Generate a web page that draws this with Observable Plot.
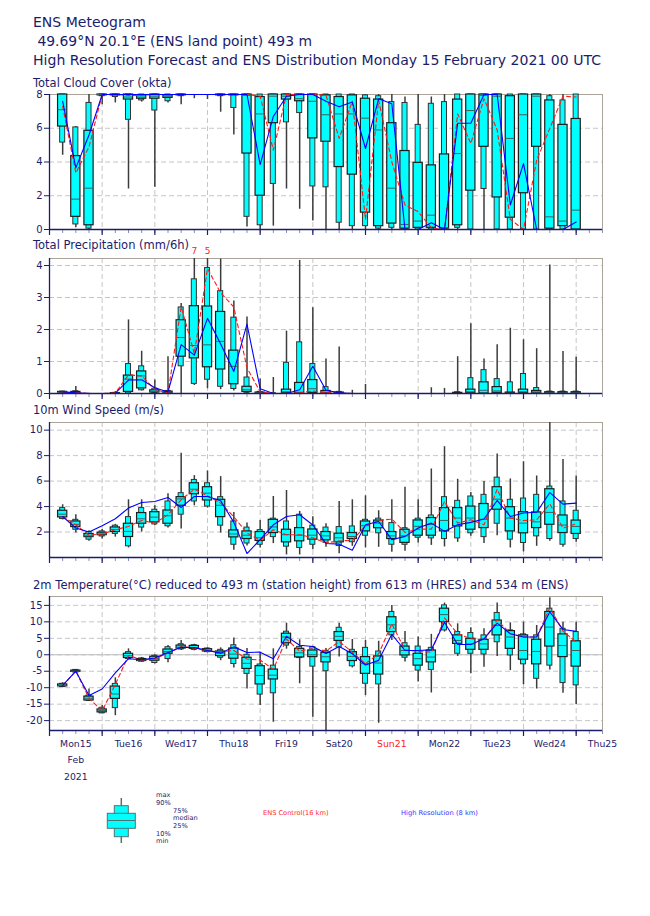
<!DOCTYPE html>
<html><head><meta charset="utf-8">
<script src="https://cdn.jsdelivr.net/npm/d3@7"></script>
<script src="https://cdn.jsdelivr.net/npm/@observablehq/plot@0.6"></script>
<style>
body{margin:0;background:#fff;font-family:"DejaVu Sans",sans-serif;}
#root{position:relative;width:650px;height:916px;overflow:hidden;background:#fff;}
#overlay{position:absolute;left:0;top:0;z-index:3;pointer-events:none;}
</style></head><body><div id="root"></div>
<script>
// ---------- time axis ----------
const steps = [6,12,18,24,30,36,42,48,54,60,66,72,78,84,90,96,102,108,114,120,126,132,138,144,150,156,162,168,174,180,186,192,198,204,210,216,222,228,234,240];
const dayTicks = [0,24,48,72,96,120,144,168,192,216,240];
const sixTicks = [0,6,12,18,24,30,36,42,48,54,60,66,72,78,84,90,96,102,108,114,120,126,132,138,144,150,156,162,168,174,180,186,192,198,204,210,216,222,228,234,240,246,252];
const dayNoon = [12,36,60,84,108,132,156,180,204,228,252];
const dayNames = ["Mon15","Tue16","Wed17","Thu18","Fri19","Sat20","Sun21","Mon22","Tue23","Wed24","Thu25"];
const sundayName = "Sun21";

// ---------- Total cloud cover (okta) ----------
const cloudMin = [4.4,0.1,0,7.4,7.5,2.4,7.55,2.5,7.5,7.4,7.75,7.7,6.95,5.6,0.15,0,0.2,2.4,1.2,0.5,0,0,0,0,0,0,0,0,0,0,0,0,0,0,0,0,0,0,0,0];
const cloudP10 = [5.15,0.3,0.05,7.9,7.85,6.5,7.65,7.05,7.6,7.9,8,8,7.9,7.2,0.75,0.25,2.7,6.35,6.9,2.55,2.5,0.4,0.2,0.2,0.05,0.1,0,0,0,0,0.1,0,2.4,0,0,0,0,0,0,0];
const cloudP25 = [6.1,0.75,0.25,7.95,7.95,7.7,7.75,7.75,7.8,7.95,8,8,7.95,7.95,4.5,2.0,6.3,7.7,7.6,5.4,5.2,3.7,3.25,1.0,0.2,0.35,0.05,0.1,0.1,0.05,0.25,2.3,4.9,1.9,0.7,2.15,4.9,0.05,0.2,0];
const cloudMed = [7.1,1.8,2.45,8,8,7.85,7.85,7.9,7.9,8,8,8,8,8,7.95,6.85,7.9,7.9,7.75,7.6,6.8,6.85,6.85,6.6,5.9,2.45,0.3,0.5,0.85,0.1,4.5,7.05,7.95,7.9,5.4,6.8,7.9,0.75,0.5,1.15];
const cloudP75 = [8,4.35,5.85,8,8,8,7.95,8,7.95,8,8,8,8,8,8,7.85,8,8,8,8,7.95,7.85,7.95,7.75,7.7,6.3,4.65,3.95,3.8,4.45,7.7,8,8,8,7.9,8,8,7.65,6.2,6.55];
const cloudP90 = [8,6.05,7.5,8,8,8,8,8,8,8,8,8,8,8,8,8,8,8,8,8,8,8,8,7.95,7.9,7.55,7.5,6.2,7.45,7.55,8,8,8,8,8,8,8,7.9,7.65,8];
const cloudMax = [8,6.1,8,8,8,8,8,8,8,8,8,8,8,8,8,8,8,8,8,8,8,8,8,8,8,8,7.85,8,7.85,8,8,8,8,8,8,8,8,8,8,8];
const cloudCtrl = [7.3,3.35,4.9,8,8,7.95,7.95,8,8,8,8,8,8,8,8,7.9,4.7,8,8,8,7.95,5.4,7.6,0.6,7.65,4.0,1.45,1.05,0.1,0,6.85,5.1,7.75,5.9,0.6,0,4.1,6.0,7.9,7.85];
const cloudHres = [7.6,3.65,5.6,8,8,8,8,8,8,8,8,8,8,8,8,3.85,6.7,7.9,8,8,7.6,7.27,7.55,4.8,7.75,7.45,0,0,0.4,0,6.3,6.3,8,8,1.45,3.9,0,0,0,0.45];
const cloudTicks = [0,2,4,6,8];

// ---------- Total precipitation (mm/6h) ----------
const precMin = [0,0,0,0,0,0,0.08,0,0,0,0.25,0.15,0.12,0.08,0,0,0,0,0,0,0,0,0,0,0,0,0,0,0,0,0,0,0,0,0,0,0,0,0,0];
const precP10 = [0.02,0,0,0,0,0,0.1,0.01,0,0.85,0.3,0.43,0.21,0.14,0.02,0,0,0,0,0,0,0,0,0,0,0,0,0,0,0,0,0,0,0,0,0,0,0,0,0];
const precP25 = [0.03,0.01,0,0,0,0.05,0.16,0.03,0.02,1.15,1.1,0.82,0.75,0.29,0.05,0.01,0,0.02,0,0.02,0.01,0,0,0,0,0,0,0,0,0,0,0.02,0,0.02,0,0.02,0.02,0,0,0];
const precMed = [0.04,0.03,0,0,0,0.45,0.55,0.06,0.04,1.75,1.5,1.52,1.63,0.85,0.12,0.02,0,0.05,0.04,0.15,0.04,0.01,0,0,0,0,0,0,0,0,0,0.05,0.1,0.08,0.01,0.05,0.04,0.02,0.02,0.02];
const precP75 = [0.05,0.05,0,0,0.01,0.56,0.69,0.1,0.06,2.29,2.73,2.72,2.55,1.34,0.21,0.03,0,0.12,0.33,0.42,0.08,0.03,0,0,0,0,0,0,0,0,0.02,0.12,0.35,0.2,0.03,0.12,0.08,0.04,0.04,0.04];
const precP90 = [0.06,0.07,0,0,0.02,0.92,0.85,0.15,0.08,2.69,3.57,3.92,3.2,2.37,0.5,0.05,0.01,0.96,1.6,0.92,0.2,0.05,0,0,0,0,0,0,0,0,0.04,0.48,0.73,0.45,0.35,0.61,0.17,0.06,0.06,0.06];
const precMax = [0.07,0.22,0.01,0,0.06,2.3,1.32,0.42,1.15,2.81,7,5,4.2,2.89,2.39,0.45,0.5,1.95,4.16,2.68,1.08,1.45,0.1,0.28,0,0,0,0,0.18,0.16,1.15,2.18,1.08,1.52,2.04,1.68,1.4,4.02,1.31,1.13];
const precCtrl = [0.05,0.03,0,0,0.02,0.58,0.55,0.12,0.02,2.71,1.25,3.9,3.15,2.7,0.8,0.05,0,0,0.02,0.08,0.03,0.01,0,0,0,0,0,0,0,0,0,0,0,0,0,0,0,0,0,0];
const precHres = [0.05,0.02,0,0,0.01,0.42,0.43,0.18,0.05,1.53,1.2,2.35,1.55,0.69,2.17,0.15,0,0,0.12,0.85,0.1,0.02,0,0,0,0,0,0,0,0,0,0,0,0,0,0,0,0,0,0];
const precTicks = [0,1,2,3,4];
const precOverT = [66,72];
const precOverLabel = ["7","5"];

// ---------- 10m wind speed (m/s) ----------
const windMin = [2.95,1.92,1.27,1.45,1.6,0.75,2.0,2.5,2.31,2.23,4.06,3.88,1.92,0.57,0.9,0.75,1.09,0.2,0.2,0.6,0.8,0.3,0.88,0.75,0.8,0.41,0.5,1.14,0.95,0.83,1.19,1.66,1.09,1.71,0.75,0.44,0.88,1.27,0.8,1.2];
const windP10 = [3.02,2.18,1.4,1.65,1.85,0.88,2.35,2.6,2.45,3.36,4.4,4.0,2.5,1.0,1.1,1.0,1.6,0.85,0.75,1.0,1.15,0.9,1.2,1.71,1.9,1.0,1.0,1.55,1.5,1.45,1.5,1.9,1.6,2.65,1.4,1.14,1.66,1.45,1.0,1.45];
const windP25 = [3.15,2.39,1.6,1.75,2.0,1.61,2.65,2.76,2.65,4.06,4.97,4.48,3.17,1.58,1.45,1.3,1.92,1.19,1.27,1.4,1.35,1.19,1.45,2.05,2.3,1.45,1.15,1.71,1.71,2.05,2.44,2.18,2.31,3.75,2.05,1.9,2.31,2.57,1.92,1.85];
const windMed = [3.4,2.6,1.7,1.85,2.2,2.05,3.04,3.17,3.28,4.6,5.36,5.05,4.1,1.85,1.75,1.55,2.4,1.79,1.75,1.75,1.7,1.55,1.65,2.5,2.7,1.7,1.7,2.45,2.6,2.91,3.1,3.1,3.0,4.58,3.1,2.7,2.8,3.54,2.55,2.44];
const windP75 = [3.67,2.83,1.84,1.95,2.36,2.65,3.49,3.56,3.69,4.74,5.83,5.52,4.53,2.13,2.05,2.0,2.96,2.18,2.31,2.2,2.0,1.87,1.92,2.83,2.9,2.0,2.18,2.91,3.1,3.88,3.88,4.0,4.2,5.52,3.95,3.56,3.54,5.36,3.3,2.9];
const windP90 = [3.88,2.96,2.0,2.05,2.5,3.17,3.88,3.75,4.4,5.05,6.09,5.83,4.74,2.83,2.35,2.15,3.05,2.83,3.36,2.5,2.35,2.39,2.44,2.96,3.05,2.7,2.3,3.05,3.3,4.74,4.45,4.79,4.92,6.27,4.53,4.63,4.92,5.57,4.4,3.67];
const windMax = [4.14,3.35,2.1,2.2,2.6,4.53,4.53,4.06,5.0,8.18,6.43,6.79,6.35,3.54,2.7,2.91,4.79,5.26,3.62,3.2,2.65,4.4,4.53,4.84,3.67,4.53,5.52,4.53,6.95,8.7,6.14,5.1,5.96,8.12,6.17,7.52,6.4,10.65,7.7,6.4];
const windCtrl = [3.22,2.57,1.75,1.85,2.18,2.44,2.91,2.7,3.36,4.53,5.36,4.84,4.27,3.2,1.92,1.35,2.18,1.79,1.79,1.55,1.15,1.3,1.35,2.5,2.91,3.02,1.97,2.23,2.23,4.4,2.7,2.96,2.57,5.36,3.1,2.9,2.96,4.21,2.31,2.65];
const windHres = [3.22,2.31,2.0,2.5,3.04,3.88,4.32,4.4,4.71,3.93,4.79,4.79,4.45,2.76,0.31,1.4,2.57,3.22,3.36,2.55,1.1,1.05,0.57,2.57,2.83,1.4,1.66,2.31,2.7,2.05,2.57,2.76,3.02,4.48,3.22,3.5,3.55,5.1,4.19,4.27];
const windTicks = [2,4,6,8,10];

// ---------- 2m temperature (°C) ----------
const tMin = [-10,-5.6,-14.2,-17.9,-18.5,-1.5,-2.2,-2.8,-2.4,1.3,1.2,0.6,-1.8,-4.0,-10.4,-15.4,-20.5,1.7,-8.8,-19.0,-23.5,-0.7,-4.0,-12.4,-20.8,4.35,-2.2,-8.3,-11.6,6.9,-0.5,-5.8,-3.8,-0.5,-4.8,-9.1,-10.4,-4.6,-11.7,-15.1];
const tP10 = [-9.8,-5.4,-14.0,-17.8,-16.2,-1.3,-2.1,-2.5,-1.3,1.6,1.5,0.8,-0.9,-2.8,-5.8,-12.1,-11.7,2.8,-1.0,-3.6,-5.0,2.2,-3.5,-8.8,-9.0,5.9,-0.9,-4.8,-4.6,7.4,0.3,0.3,0.1,3.8,-0.2,-2.9,-7.3,-3.3,-8.6,-9.3];
const tP25 = [-9.6,-5.2,-13.9,-17.5,-13.4,-1.0,-1.9,-1.8,0.3,1.9,1.8,1.0,-0.4,-1.2,-4.3,-9.0,-7.5,3.5,-0.8,-0.7,-2.3,4.2,-1.9,-5.8,-6.0,6.9,-0.2,-3.3,-2.3,9.9,3.3,1.5,1.5,5.9,1.8,-1.5,-2.9,2.5,-0.7,-3.6];
const tMed = [-9.3,-5.0,-13.2,-16.9,-11.9,-0.3,-1.6,-1.2,1.0,2.3,2.2,1.4,0.5,0.2,-2.6,-6.3,-6.2,5.4,0.6,0.0,-0.6,5.6,-0.5,-2.7,-2.5,9.1,1.3,-1.2,-0.7,12.2,4.35,3.3,3.3,8.9,5.4,1.3,1.0,8.4,2.8,1.3];
const tP75 = [-9.0,-4.8,-12.7,-16.6,-9.65,0.3,-1.3,-0.6,1.6,2.8,2.7,1.7,1.0,1.9,-0.9,-3.46,-4.5,6.4,1.8,1.3,0.6,6.9,0.8,-0.7,-0.5,11.4,2.5,0.3,1.3,14.0,5.9,4.85,4.55,10.4,7.2,5.9,4.55,13.0,6.2,4.1];
const tP90 = [-8.8,-4.6,-12.4,-16.1,-8.84,0.8,-1.1,-0.3,2.3,3.2,2.9,1.9,1.5,2.9,0.0,-2.95,-3.3,7.0,2.4,2.3,1.2,8.2,1.5,2.1,1.0,13.0,3.5,2.5,2.1,15.0,6.9,6.6,5.9,12.7,7.4,6.2,5.9,14.0,7.9,6.9];
const tMax = [-8.5,-4.5,-10.4,-15.4,-7.0,1.8,-0.8,0.0,2.8,4.35,3.2,2.1,2.1,5.06,1.9,0.8,1.8,9.6,4.55,2.6,1.9,9.6,4.65,4.35,4.1,15.0,7.1,5.4,6.2,15.7,9.4,8.2,7.9,15.7,9.7,9.9,8.9,17.3,9.9,9.9];
const tCtrl = [-9.3,-5.0,-13.2,-17.0,-9.0,-0.2,-1.6,-1.2,0.5,2.5,2.1,1.1,0.9,1.3,-1.3,-1.6,-4.4,4.8,1.1,1.9,1.1,4.0,0.8,-2.7,0.3,9.4,1.5,1.0,0.8,11.2,6.4,4.85,4.35,10.6,6.4,5.4,5.4,14.3,7.2,3.8];
const tHres = [-9.3,-5.0,-12.4,-10.4,-5.5,-1.2,-1.5,-1.0,0.7,2.3,2.2,1.3,0.5,2.4,0.7,0.8,-1.2,5.6,2.9,2.5,0.4,2.5,0.3,-3.1,-1.7,6.2,1.3,1.3,1.5,9.9,3.1,3.1,4.85,9.6,6.4,5.4,5.4,13.0,7.7,7.1];
const tTicks = [-20,-15,-10,-5,0,5,10,15];

// ---------- rendering ----------
const navy = "#1c1c6c";
const root = document.getElementById("root");

function rowsOf(mn,p10,p25,med,p75,p90,mx,ctrl,hres){
  return steps.map((t,i)=>({t,mn:mn[i],p10:p10[i],p25:p25[i],med:med[i],p75:p75[i],p90:p90[i],mx:mx[i],ctrl:ctrl[i],hres:hres[i]}));
}

function panel(rows, o){
  const marks = [
    Plot.gridY(o.yTicks, {stroke:"#c6c6c6", strokeOpacity:1, strokeDasharray:"5,3"}),
    Plot.gridX(dayTicks.slice(1), {stroke:"#c6c6c6", strokeOpacity:1, strokeDasharray:"5,3"}),
    ...(o.back || []),
    Plot.frame({stroke:"#aaa498"}),
    Plot.axisX(sixTicks, {tickSize:4, tickFormat:()=>"", label:null, stroke:"#8d8db5"}),
    Plot.axisX(dayTicks, {tickSize:6, tickFormat:()=>"", label:null, stroke:navy, strokeWidth:1.2}),
    Plot.axisY(o.yTicks, {tickSize:5, tickPadding:2, label:null, color:navy, fontSize:10, tickFormat:d=>String(d)}),
    Plot.ruleX(rows, {x:"t", y1:"mn", y2:"mx", stroke:"#3c3c3c", strokeWidth:1.5}),
    Plot.rect(rows, {x1:d=>d.t-1.15, x2:d=>d.t+1.15, y1:"p10", y2:"p90", fill:"#00ffff", stroke:"#333", strokeWidth:1}),
    Plot.rect(rows, {x1:d=>d.t-2.1, x2:d=>d.t+2.1, y1:"p25", y2:"p75", fill:"#00ffff", stroke:"#1e1e1e", strokeWidth:1.2}),
    Plot.ruleY(rows, {y:"med", x1:d=>d.t-2.1, x2:d=>d.t+2.1, stroke:"#3a6262", strokeWidth:1}),
    Plot.line(rows, {x:"t", y:"ctrl", stroke:"#ff1a1a", strokeWidth:1.1, strokeDasharray:"4,3"}),
    Plot.line(rows, {x:"t", y:"hres", stroke:"#0000ff", strokeWidth:1.1}),
    Plot.ruleX([0], {stroke:navy, strokeWidth:1.3}),
    Plot.ruleY([o.y[0]], {stroke:navy, strokeWidth:1.3}),
    ...(o.extra || [])
  ];
  const svg = Plot.plot({
    width:650, height:o.h, marginLeft:49, marginRight:48, marginTop:o.mt, marginBottom:o.mb,
    x:{domain:[0,252], label:null}, y:{domain:o.y, clamp:true, label:null},
    style:{fontFamily:"DejaVu Sans", fontSize:"10px", color:navy, background:"transparent"},
    marks
  });
  svg.style.position = "absolute";
  svg.style.left = "0px";
  svg.style.top = o.top + "px";
  root.appendChild(svg);
}

panel(rowsOf(cloudMin,cloudP10,cloudP25,cloudMed,cloudP75,cloudP90,cloudMax,cloudCtrl,cloudHres),
  {y:[0,8], yTicks:cloudTicks, top:88, mt:6, mb:10, h:151});

panel(rowsOf(precMin,precP10,precP25,precMed,precP75,precP90,precMax,precCtrl,precHres),
  {y:[0,4.22], yTicks:precTicks, top:246, mt:12, mb:10, h:157,
   extra:[Plot.text(precOverLabel, {x:precOverT, text:d=>d, frameAnchor:"top", dy:-11, fill:"#ff2020", fontSize:9})]});

panel(rowsOf(windMin,windP10,windP25,windMed,windP75,windP90,windMax,windCtrl,windHres),
  {y:[0,10.6], yTicks:windTicks, top:416, mt:6, mb:10, h:151});

panel(rowsOf(tMin,tP10,tP25,tMed,tP75,tP90,tMax,tCtrl,tHres),
  {y:[-23,17.7], yTicks:tTicks, top:590, mt:6, mb:60, h:200,
   back:[Plot.ruleY([0], {stroke:"#bdbdbd", strokeWidth:1})],
   extra:[
     Plot.text(dayNames, {filter:d=>d!==sundayName, x:d=>dayNoon[dayNames.indexOf(d)], text:d=>d, frameAnchor:"bottom", dy:16.7, fill:navy, fontSize:9.3}),
     Plot.text([sundayName], {x:[dayNoon[dayNames.indexOf(sundayName)]], text:d=>d, frameAnchor:"bottom", dy:16.7, fill:"#ff2020", fontSize:9.3}),
     Plot.text(["Feb"], {x:[dayNoon[0]], text:d=>d, frameAnchor:"bottom", dy:32.7, fill:navy, fontSize:9.3}),
     Plot.text(["2021"], {x:[dayNoon[0]], text:d=>d, frameAnchor:"bottom", dy:49, fill:navy, fontSize:9.3})
   ]});

// ---------- titles + legend overlay ----------
const titles = [
  {text:"ENS Meteogram", x:33, y:26.5, size:14, len:113},
  {text:" 49.69°N 20.1°E (ENS land point) 493 m", x:33, y:45.5, size:14, len:279},
  {text:"High Resolution Forecast and ENS Distribution Monday 15 February 2021 00 UTC", x:33, y:64.5, size:14, len:568},
  {text:"Total Cloud Cover (okta)", x:33, y:87, size:11.5, len:138.5},
  {text:"Total Precipitation (mm/6h)", x:33, y:249.3, size:11.5, len:156},
  {text:"10m Wind Speed (m/s)", x:33, y:414.3, size:11.5, len:131},
  {text:"2m Temperature(°C) reduced to 493 m (station height) from 613 m (HRES) and 534 m (ENS)", x:33, y:589.3, size:11.5, len:535.5}
];
const legendLabels = [
  {text:"max", x:156, y:797.3}, {text:"90%", x:156, y:805}, {text:"75%", x:173, y:812.6},
  {text:"median", x:173, y:820.3}, {text:"25%", x:173, y:828}, {text:"10%", x:156, y:836}, {text:"min", x:156, y:842.6}
];
const esc = s => s.replace(/&/g,"&amp;").replace(/</g,"&lt;");
let svgTxt = `<svg id="overlay" width="650" height="916" xmlns="http://www.w3.org/2000/svg" font-family="DejaVu Sans">`;
for (const t of titles) {
  svgTxt += `<text x="${t.x}" y="${t.y}" font-size="${t.size}" fill="${navy}" style="white-space:pre" textLength="${t.len}" lengthAdjust="spacingAndGlyphs">${esc(t.text)}</text>`;
}
// legend glyph
svgTxt += `<line x1="121.3" x2="121.3" y1="798" y2="843" stroke="#5e6f6f" stroke-width="1.5"/>`;
svgTxt += `<rect x="114.3" y="805.7" width="14" height="31" fill="#00ffff" stroke="#4f7373" stroke-width="1"/>`;
svgTxt += `<rect x="107.3" y="813.3" width="28" height="15" fill="#00ffff" stroke="#4f7373" stroke-width="1"/>`;
svgTxt += `<line x1="107.3" x2="135.3" y1="820.5" y2="820.5" stroke="#4f7373" stroke-width="1"/>`;
for (const l of legendLabels) {
  svgTxt += `<text x="${l.x}" y="${l.y}" font-size="6.6" fill="${navy}">${l.text}</text>`;
}
svgTxt += `<text x="263" y="815" font-size="6.6" fill="#ff2a2a" textLength="65.5" lengthAdjust="spacingAndGlyphs">ENS Control(16 km)</text>`;
svgTxt += `<text x="401" y="815" font-size="6.6" fill="#3333ff" textLength="77" lengthAdjust="spacingAndGlyphs">High Resolution (8 km)</text>`;
svgTxt += `</svg>`;
root.insertAdjacentHTML("beforeend", svgTxt);
</script></body></html>
